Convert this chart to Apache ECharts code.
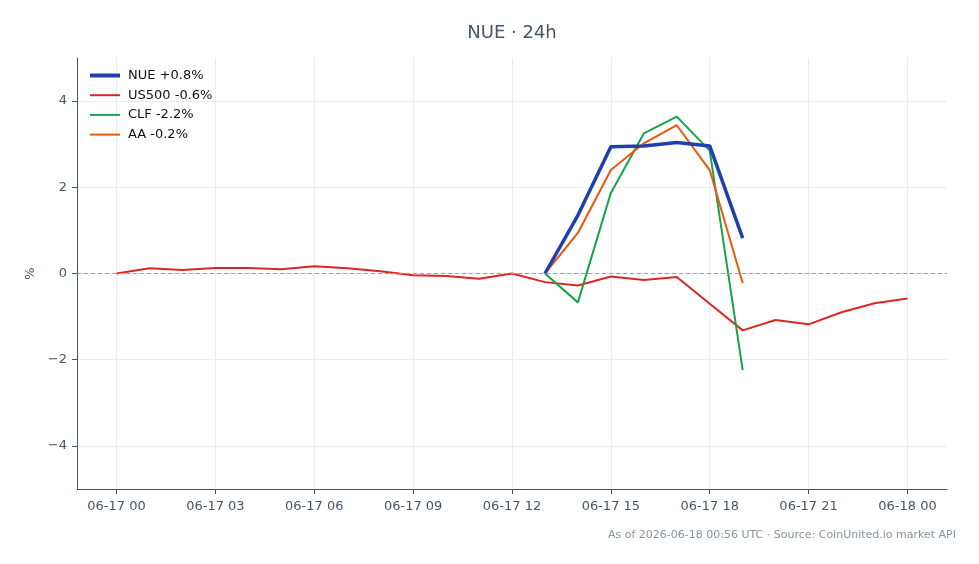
<!DOCTYPE html>
<html><head><meta charset="utf-8">
<script src="https://cdn.jsdelivr.net/npm/echarts@6/dist/echarts.min.js"></script>
<style>html,body{margin:0;padding:0;background:#fff}#c{width:979px;height:564px}</style>
</head><body><div id="c"></div>
<script>
const hours = [0,1,2,3,4,5,6,7,8,9,10,11,12,13,14,15,16,17,18,19,20,21,22,23,24];
const tickHours = [0,3,6,9,12,15,18,21,24];
const tickLabels = ['06-17 00','06-17 03','06-17 06','06-17 09','06-17 12','06-17 15','06-17 18','06-17 21','06-18 00'];
const yTicks = [-4,-2,0,2,4];
const us500 = [0,0.12,0.08,0.13,0.13,0.10,0.17,0.12,0.05,-0.04,-0.06,-0.12,0,-0.20,-0.28,-0.07,-0.15,-0.08,-0.70,-1.32,-1.08,-1.18,-0.90,-0.69,-0.58];
const nueHours = [13,14,15,16,17,18,19];
const nue = [0,1.35,2.94,2.96,3.04,2.96,0.82];
const clf = [0,-0.67,1.87,3.25,3.64,2.85,-2.24];
const aa  = [0,0.94,2.40,3.02,3.44,2.40,-0.22];
const names = ['NUE +0.8%','US500 -0.6%','CLF -2.2%','AA -0.2%'];
const colors = ['#1e40af','#dc2626','#16a34a','#ea580c'];
const widths = [3.5,2,2,2];

const pair = (xs, ys) => xs.map((x,i)=>[x, ys[i]]);
const font = 'DejaVu Sans';
const axisColor = '#475569';
const chart = echarts.init(document.getElementById('c'));
chart.setOption({
  animation:false,
  textStyle:{fontFamily:font},
  graphic:[
    {type:'text', x:512, y:24, style:{text:'NUE · 24h', fill:'#475569', font:'18px "DejaVu Sans"', textAlign:'center'}},
    {type:'text', right:23, top:530, style:{text:'As of 2026-06-18 00:56 UTC · Source: CoinUnited.io market API', fill:'#8792a2', font:'11px "DejaVu Sans"', textAlign:'right'}}
  ],
  legend:{orient:'vertical', left:83, top:64, itemWidth:30, itemHeight:13, itemGap:6.7,
    itemStyle:{opacity:0},
    textStyle:{fontFamily:font,fontSize:13,color:'#111', padding:[0,0,0,3]},
    data:names.map((n,i)=>({name:n, lineStyle:{width:i===0?4:2, color:colors[i]}}))},
  grid:{left:77, right:32, top:58, bottom:75, containLabel:false},
  xAxis:{type:'value', min:-1.2, max:25.2,
    axisLine:{onZero:false, lineStyle:{color:axisColor, width:1}},
    axisTick:{customValues:tickHours, length:5, lineStyle:{color:axisColor}},
    axisLabel:{customValues:tickHours, formatter:v=>tickLabels[tickHours.indexOf(Math.round(v))] ?? '', color:axisColor, fontSize:13, fontFamily:font, margin:11},
    splitLine:{show:true, lineStyle:{color:'#ebedf0', width:1}}},
  yAxis:{type:'value', min:-5, max:5, name:'%', nameLocation:'middle', nameGap:40, nameRotate:90,
    nameTextStyle:{color:axisColor, fontSize:13, fontFamily:font},
    axisLine:{show:true, onZero:false, lineStyle:{color:axisColor, width:1}},
    axisTick:{show:true, customValues:yTicks, length:5, lineStyle:{color:axisColor}},
    axisLabel:{customValues:yTicks, formatter:v=>String(v).replace('-','\u2212'), color:axisColor, fontSize:13, fontFamily:font, margin:10},
    splitLine:{show:true, lineStyle:{color:'#ebedf0', width:1}}},
  series:[
    {name:names[0], type:'line', data:pair(nueHours, nue), symbol:'none', z:4, lineStyle:{color:colors[0], width:widths[0]}, itemStyle:{color:colors[0]}},
    {name:names[1], type:'line', data:pair(hours, us500), symbol:'none', z:2, lineStyle:{color:colors[1], width:widths[1]}, itemStyle:{color:colors[1]},
      markLine:{silent:true, symbol:'none', label:{show:false}, lineStyle:{color:'#8da0c0', type:[4,3], width:1}, data:[{yAxis:0}]}},
    {name:names[2], type:'line', data:pair(nueHours, clf), symbol:'none', z:3, lineStyle:{color:colors[2], width:widths[2]}, itemStyle:{color:colors[2]}},
    {name:names[3], type:'line', data:pair(nueHours, aa), symbol:'none', z:3, lineStyle:{color:colors[3], width:widths[3]}, itemStyle:{color:colors[3]}}
  ]
});
</script></body></html>
